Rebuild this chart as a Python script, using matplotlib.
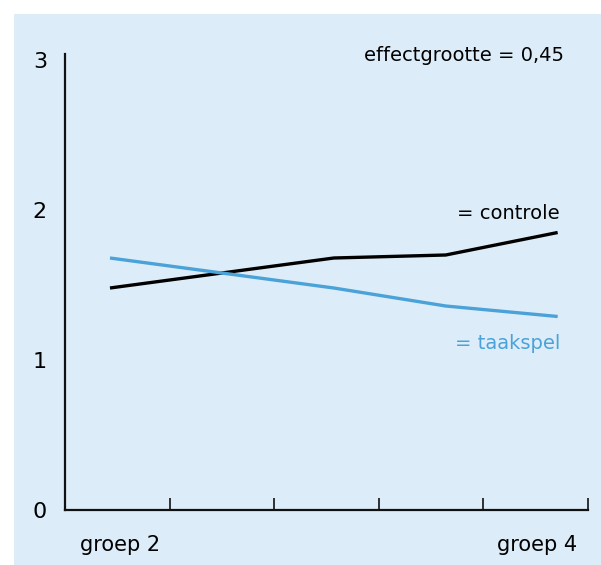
import matplotlib
matplotlib.use("Agg")
import matplotlib.pyplot as plt

# data
meetmoment = [0.43, 1.50, 2.57, 3.64, 4.71]
controle = [1.48, 1.58, 1.68, 1.70, 1.85]
taakspel = [1.68, 1.58, 1.48, 1.36, 1.29]
y_ticks = [0, 1, 2, 3]
x_ticks = [1, 2, 3, 4, 5]

BG = "#dcedf9"
BLUE = "#4aa2d8"

W, H = 601, 565
fig = plt.figure(figsize=(W / 100, H / 100), dpi=100)
fig.patch.set_facecolor("white")

# light blue panel behind everything
bg = fig.add_axes([14 / W, 0, 1 - 14 / W, 1 - 14 / H])
bg.set_facecolor(BG)
bg.set_xticks([])
bg.set_yticks([])
for s in bg.spines.values():
    s.set_visible(False)

ax = fig.add_axes([65 / W, 1 - 510 / H, (588 - 65) / W, (510 - 54) / H])
ax.set_facecolor("none")

ax.plot(meetmoment, controle, color="black", lw=2.4, solid_capstyle="butt")
ax.plot(meetmoment, taakspel, color=BLUE, lw=2.4, solid_capstyle="butt")

ax.set_xlim(0, 5)
ax.set_ylim(0, 3.04)
ax.set_xticks(x_ticks)
ax.set_xticklabels([])
ax.set_yticks(y_ticks)
ax.set_yticklabels([str(v) for v in y_ticks])
ax.tick_params(axis="x", direction="in", length=9, width=1.3, color="#222222")
ax.tick_params(axis="y", length=0, pad=13, labelsize=16)

for s in ["top", "right"]:
    ax.spines[s].set_visible(False)
for s in ["left", "bottom"]:
    ax.spines[s].set_linewidth(1.6)
    ax.spines[s].set_color("#111111")

ax.text(0.955, 0.997, "effectgrootte = 0,45", transform=ax.transAxes,
        ha="right", va="center", fontsize=14)
ax.text(0.945, 0.651, "= controle", transform=ax.transAxes,
        ha="right", va="center", fontsize=14)
ax.text(0.948, 0.366, "= taakspel", transform=ax.transAxes,
        ha="right", va="center", fontsize=14, color=BLUE)

fig.text(120 / W, 1 - 545 / H, "groep 2", ha="center", va="center", fontsize=15)
fig.text(537 / W, 1 - 545 / H, "groep 4", ha="center", va="center", fontsize=15)

fig.savefig("out.png", dpi=100)
